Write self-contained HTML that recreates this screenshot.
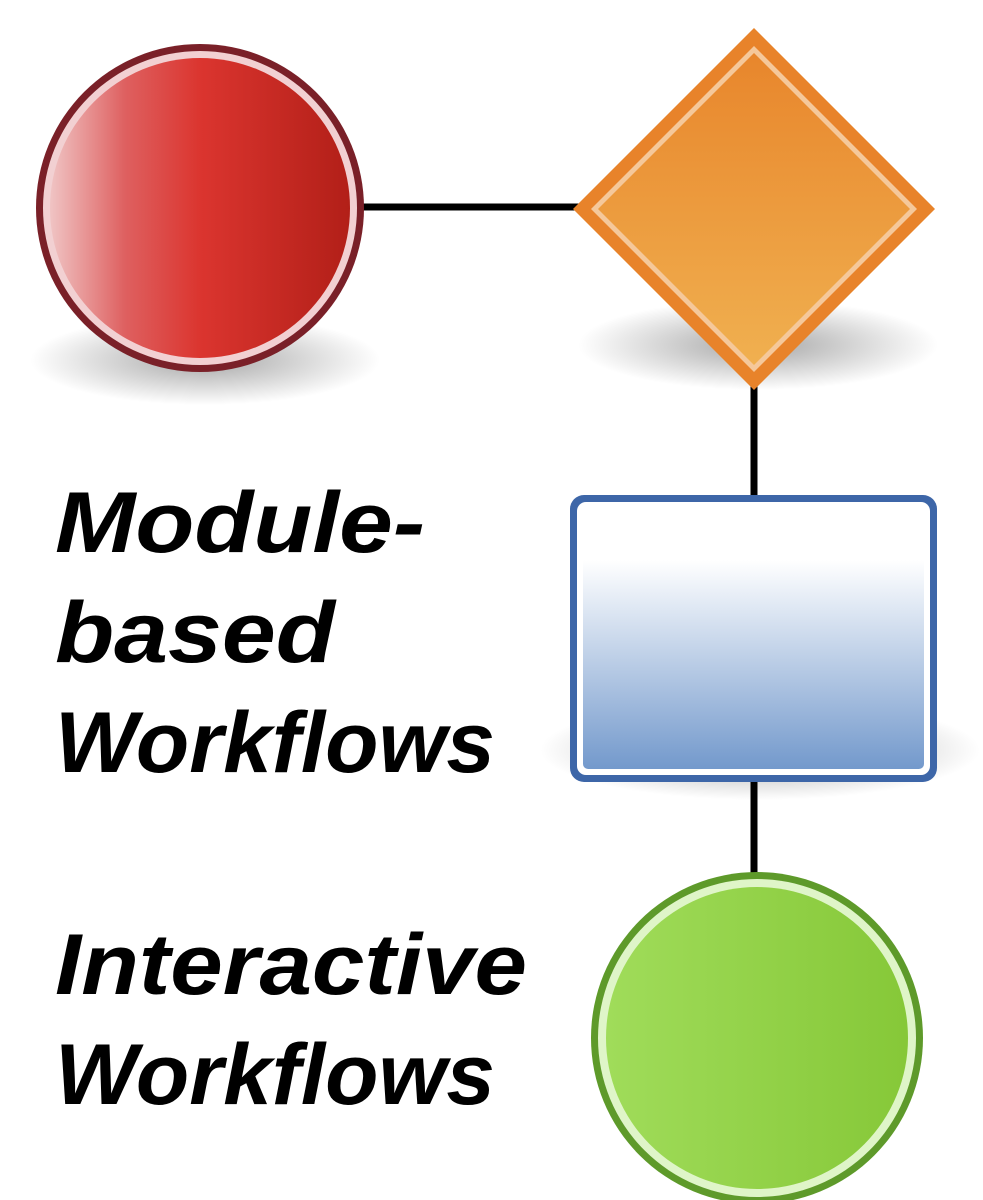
<!DOCTYPE html>
<html><head><meta charset="utf-8"><style>
html,body{margin:0;padding:0;background:#fff;}
svg{display:block;}
</style></head><body>
<svg width="983" height="1200" viewBox="0 0 983 1200" xmlns="http://www.w3.org/2000/svg">
<defs>
<linearGradient id="red" x1="0" x2="1" y1="0" y2="0">
<stop offset="0" stop-color="#f0c4c4"/><stop offset="0.25" stop-color="#de6060"/><stop offset="0.5" stop-color="#db352f"/><stop offset="1" stop-color="#b21f18"/>
</linearGradient>
<linearGradient id="org" x1="0" x2="0" y1="0" y2="1">
<stop offset="0" stop-color="#e8862c"/><stop offset="1" stop-color="#f0b050"/>
</linearGradient>
<linearGradient id="blue" x1="0" x2="0" y1="0" y2="1">
<stop offset="0" stop-color="#ffffff"/><stop offset="0.2" stop-color="#ffffff"/><stop offset="1" stop-color="#7399cc"/>
</linearGradient>
<linearGradient id="grn" x1="0" x2="1" y1="0" y2="0">
<stop offset="0" stop-color="#a0dc5a"/><stop offset="1" stop-color="#86c838"/>
</linearGradient>
<radialGradient id="sh"><stop offset="0" stop-color="#000" stop-opacity="0.35"/><stop offset="1" stop-color="#000" stop-opacity="0"/></radialGradient>
</defs>
<ellipse cx="205" cy="360" rx="175" ry="45" fill="url(#sh)"/>
<ellipse cx="758" cy="345" rx="180" ry="45" fill="url(#sh)"/>
<ellipse cx="760" cy="750" rx="220" ry="50" fill="url(#sh)"/>
<line x1="360" y1="207" x2="580" y2="207" stroke="#000" stroke-width="7"/>
<line x1="754" y1="380" x2="754" y2="500" stroke="#000" stroke-width="7"/>
<line x1="754" y1="778" x2="754" y2="875" stroke="#000" stroke-width="7"/>
<circle cx="200" cy="208" r="164" fill="#7a2028"/>
<circle cx="200" cy="208" r="157" fill="#f2d0d2"/>
<circle cx="200" cy="208" r="150" fill="url(#red)"/>
<polygon points="754,28 935,209 754,390 573,209" fill="#e8832a"/>
<polygon points="754,46 917,209 754,372 591,209" fill="#f5c89a"/>
<polygon points="754,53 910,209 754,365 598,209" fill="url(#org)"/>
<rect x="570" y="495" width="367" height="287" rx="14" fill="#3d66a8"/>
<rect x="577" y="502" width="353" height="273" rx="9" fill="#ffffff"/>
<rect x="583" y="508" width="341" height="261" rx="5" fill="url(#blue)"/>
<circle cx="757" cy="1038" r="166" fill="#5e9a2a"/>
<circle cx="757" cy="1038" r="159" fill="#dff5c8"/>
<circle cx="757" cy="1038" r="151" fill="url(#grn)"/>
<g font-family="Liberation Sans, sans-serif" font-style="italic" font-weight="bold" font-size="86" fill="#000">
<text x="55" y="552" textLength="370" lengthAdjust="spacingAndGlyphs">Module-</text>
<text x="55" y="662" textLength="280" lengthAdjust="spacingAndGlyphs">based</text>
<text x="55" y="772" textLength="440" lengthAdjust="spacingAndGlyphs">Workflows</text>
<text x="55" y="994" textLength="472" lengthAdjust="spacingAndGlyphs">Interactive</text>
<text x="55" y="1104" textLength="440" lengthAdjust="spacingAndGlyphs">Workflows</text>
</g>
</svg>
</body></html>
